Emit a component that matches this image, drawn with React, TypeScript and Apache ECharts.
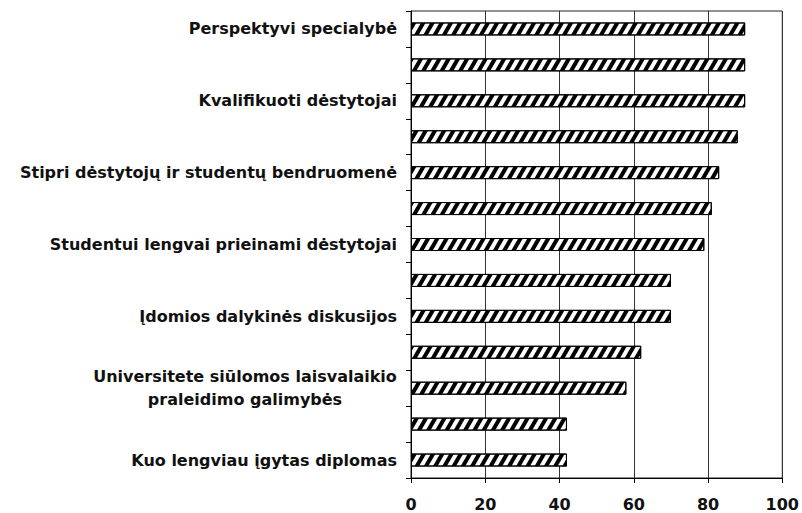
import React, { useEffect, useRef } from "react";
import * as echarts from "echarts";

const categories: string[] = [
  "Perspektyvi specialybė",
  "",
  "Kvalifikuoti dėstytojai",
  "",
  "Stipri dėstytojų ir studentų bendruomenė",
  "",
  "Studentui lengvai prieinami dėstytojai",
  "",
  "Įdomios dalykinės diskusijos",
  "",
  "Universitete siūlomos laisvalaikio\npraleidimo galimybės",
  "",
  "Kuo lengviau įgytas diplomas",
];

const values: number[] = [90, 90, 90, 88, 83, 81, 79, 70, 70, 62, 58, 42, 42];

const xTicks = { min: 0, max: 100, interval: 20 };

const FONT = "DejaVu Sans";

function measure(text: string): number {
  const c = document.createElement("canvas");
  const ctx = c.getContext("2d");
  if (!ctx) return 305;
  ctx.font = `bold 16px "${FONT}"`;
  return Math.ceil(ctx.measureText(text).width);
}

export default function App() {
  const ref = useRef<HTMLDivElement>(null);

  useEffect(() => {
    if (!ref.current) return;
    const chart = echarts.init(ref.current, undefined, { renderer: "svg" });

    const option: any = {
      animation: false,
      backgroundColor: "#fff",
      grid: {
        left: 411,
        top: 11,
        width: 375,
        height: 467,
        show: true,
        borderColor: "#222",
        borderWidth: 1,
        backgroundColor: "transparent",
      },
      xAxis: {
        type: "value",
        min: xTicks.min,
        max: xTicks.max,
        interval: xTicks.interval,
        axisLine: { show: true, lineStyle: { color: "#000", width: 1 } },
        axisTick: { show: true, length: 5, lineStyle: { color: "#000" } },
        splitLine: { show: true, lineStyle: { color: "#333", width: 1 } },
        axisLabel: {
          margin: 18,
          color: "#111",
          fontFamily: FONT,
          fontWeight: "bold",
          fontSize: 16,
        },
      },
      yAxis: {
        type: "category",
        data: categories,
        inverse: true,
        axisLine: { show: true, lineStyle: { color: "#000", width: 1 } },
        axisTick: { show: true, length: 5, lineStyle: { color: "#000" } },
        splitLine: { show: false },
        axisLabel: {
          interval: 0,
          margin: 14,
          color: "#111",
          fontFamily: FONT,
          fontWeight: "bold",
          fontSize: 16,
          lineHeight: 23,
          formatter: (v: string) => {
            if (!v) return "";
            if (v.indexOf("\n") >= 0) {
              return v
                .split("\n")
                .map((p) => `{c|${p}}`)
                .join("\n");
            }
            return v;
          },
          rich: {
            c: {
              width: measure("Universitete siūlomos laisvalaikio"),
              align: "center",
              fontFamily: FONT,
              fontWeight: "bold",
              fontSize: 16,
              lineHeight: 23,
              color: "#111",
            },
          },
        },
      },
      series: [
        {
          type: "bar",
          data: values,
          barWidth: 13,
          itemStyle: {
            color: "#fff",
            borderColor: "#000",
            borderWidth: 1,
            decal: {
              symbol: "rect",
              symbolSize: 1,
              color: "#000",
              dashArrayX: [1, 0],
              dashArrayY: [3.2, 3.4],
              rotation: -Math.PI / 3,
            },
          },
        },
      ],
    };

    chart.setOption(option);
    return () => chart.dispose();
  }, []);

  return (
    <div
      ref={ref}
      style={{ position: "fixed", left: 0, top: 0, width: 802, height: 513 }}
    />
  );
}
